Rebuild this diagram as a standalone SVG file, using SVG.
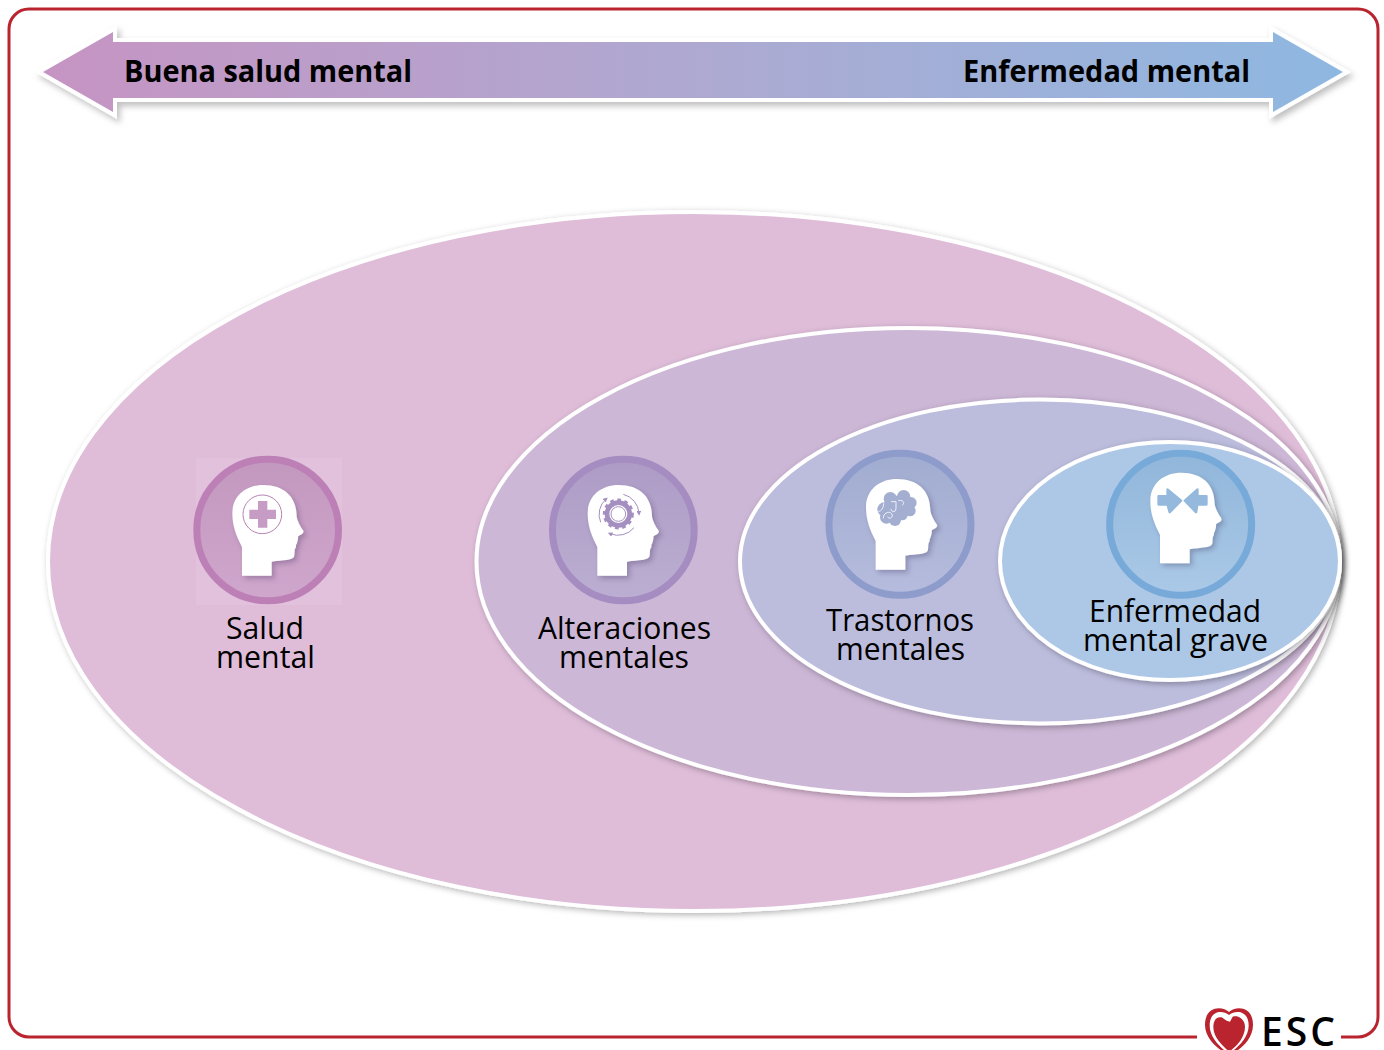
<svg xmlns="http://www.w3.org/2000/svg" width="1384" height="1050" viewBox="0 0 1384 1050">
<style>
.lbl{font-family:"Open Sans","Noto Sans","Liberation Sans",sans-serif;font-size:31px;fill:#000;text-anchor:start}
.arrowlbl{font-family:"Open Sans","Noto Sans","Liberation Sans",sans-serif;font-size:31px;font-weight:700;fill:#000}
.ell{stroke:#fff;stroke-width:4;filter:url(#sh)}
.ring{stroke-width:21}
.head{fill:#fff;filter:url(#hs)}
</style>
<defs>
<filter id="sh" x="-5%" y="-5%" width="110%" height="112%"><feDropShadow dx="2" dy="2" stdDeviation="3" flood-color="#000" flood-opacity=".3"/></filter>
<filter id="hs" x="-20%" y="-20%" width="150%" height="150%"><feDropShadow dx="8" dy="9" stdDeviation="8" flood-color="#3a2a55" flood-opacity=".3"/></filter>
<filter id="as" x="-3%" y="-30%" width="106%" height="170%"><feDropShadow dx="3" dy="4" stdDeviation="3" flood-color="#000" flood-opacity=".25"/></filter>
<linearGradient id="ga" x1="0" x2="1" y1="0" y2="0"><stop offset="0" stop-color="#c694c3"/><stop offset=".5" stop-color="#aea9d1"/><stop offset="1" stop-color="#8eb8e1"/></linearGradient>
<linearGradient id="g1" x1="0" x2="0" y1="0" y2="1"><stop offset="0" stop-color="#c398bf"/><stop offset="1" stop-color="#cfa6cc"/></linearGradient>
<linearGradient id="g2" x1="0" x2="0" y1="0" y2="1"><stop offset="0" stop-color="#ad9bc5"/><stop offset="1" stop-color="#bcaed2"/></linearGradient>
<linearGradient id="g3" x1="0" x2="0" y1="0" y2="1"><stop offset="0" stop-color="#a0acd0"/><stop offset="1" stop-color="#b6bcdd"/></linearGradient>
<linearGradient id="g4" x1="0" x2="0" y1="0" y2="1"><stop offset="0" stop-color="#90b6da"/><stop offset="1" stop-color="#abc9e7"/></linearGradient>
<path id="headp" d="M186 392 L186 306 C170 275 157 245 157 205 C157 150 200 120 250 120 C312 120 350 155 350 215 C352 228 360 243 370 257 C373 268 358 270 354 275 C355 283 352 290 350 297 C346 300 350 305 346 310 C342 316 345 330 342 335 C336 346 310 344 275 350 L275 392 Z"/>
<marker id="mk2" markerWidth="14" markerHeight="14" refX="5" refY="5" orient="auto" markerUnits="userSpaceOnUse" viewBox="0 0 10 10"><path d="M0 0L10 5L0 10Z" fill="#a48fc0"/></marker>
</defs>

<path id="frame" d="M1197 1037H29A20 20 0 0 1 9 1017V29A20 20 0 0 1 29 9H1358A20 20 0 0 1 1378 29V1017A20 20 0 0 1 1358 1037H1341" fill="none" stroke="#b9242f" stroke-width="3"/>

<g id="arrow">
<path d="M43 72L113 32V42H1273V32L1343 72L1273 112V98H113V112Z" fill="url(#ga)" stroke="#fff" stroke-width="8" stroke-linejoin="miter" paint-order="stroke" filter="url(#as)"/>
<text class="arrowlbl" x="124" y="82" textLength="288" lengthAdjust="spacingAndGlyphs">Buena salud mental</text>
<text class="arrowlbl" x="963" y="82" textLength="287" lengthAdjust="spacingAndGlyphs">Enfermedad mental</text>
</g>

<g id="ellipses">
<ellipse id="e1" class="ell" cx="694" cy="561.5" rx="646" ry="349.5" fill="#dfbdd9"/>
<ellipse id="e2" class="ell" cx="908" cy="561.5" rx="431.5" ry="233.5" fill="#ccb7d6"/>
<ellipse id="e3" class="ell" cx="1040" cy="561.5" rx="300" ry="162" fill="#bcbcdd"/>
<ellipse id="e4" class="ell" cx="1170" cy="561" rx="170" ry="119" fill="#adc8e6"/>
</g>

<g id="node-salud">
<rect x="196" y="458" width="146" height="147" fill="#e1c1db"/>
<g transform="translate(180 445) scale(.33333)">
<circle class="ring" cx="263" cy="255" r="212.5" fill="url(#g1)" stroke="#bd80b6"/>
<use href="#headp" class="head"/>
<circle cx="247" cy="208" r="58" fill="none" stroke="#b582b0" stroke-width="3"/>
<path d="M234 168H262V194H288V222H262V248H234V222H208V194H234Z" fill="#c79cc4"/>
</g>
<text class="lbl" x="226" y="639" textLength="78" lengthAdjust="spacingAndGlyphs">Salud</text>
<text class="lbl" x="216" y="668" textLength="99" lengthAdjust="spacingAndGlyphs">mental</text>
</g>

<g id="node-alteraciones">
<g transform="translate(540 445) scale(.33333)">
<circle class="ring" cx="250" cy="255" r="212.5" fill="url(#g2)" stroke="#a58dc1"/>
<use href="#headp" class="head" transform="translate(-14 0)"/>
<circle cx="235" cy="207" r="34" fill="none" stroke="#a48fc0" stroke-width="14"/>
<circle cx="235" cy="207" r="42" fill="none" stroke="#a48fc0" stroke-width="9" stroke-dasharray="11 10.5"/>
<circle cx="235" cy="207" r="22" fill="#fff"/>
<circle cx="235" cy="207" r="22" fill="none" stroke="#a48fc0" stroke-width="3"/>
<g fill="none" stroke="#a48fc0" stroke-width="3">
<path d="M182 232A62 62 0 0 1 198 162" marker-end="url(#mk2)"/>
<path d="M250 148A62 62 0 0 1 297 205" marker-end="url(#mk2)"/>
<path d="M282 248A62 62 0 0 1 210 266" marker-end="url(#mk2)"/>
</g>
</g>
<text class="lbl" x="538" y="639" textLength="173" lengthAdjust="spacingAndGlyphs">Alteraciones</text>
<text class="lbl" x="559" y="668" textLength="130" lengthAdjust="spacingAndGlyphs">mentales</text>
</g>

<g id="node-trastornos">
<g transform="translate(815 440) scale(.33333)">
<circle class="ring" cx="255" cy="253" r="213" fill="url(#g3)" stroke="#8e9ccb"/>
<use href="#headp" class="head" transform="translate(-4 -3)"/>
<g fill="#a3aed1">
<circle cx="245" cy="205" r="38"/><circle cx="208" cy="208" r="21"/><circle cx="226" cy="176" r="20"/><circle cx="266" cy="170" r="20"/><circle cx="288" cy="188" r="17"/><circle cx="285" cy="212" r="17"/><circle cx="214" cy="232" r="19"/><circle cx="240" cy="240" r="18"/><circle cx="262" cy="225" r="16"/>
</g>
<g fill="none" stroke="#eef0f8" stroke-width="3">
<path d="M228 185H243V205C243 218 228 218 228 207M205 235C205 215 228 212 232 225C232 235 222 238 218 230M250 182C265 178 270 190 262 196M190 215C200 212 205 205 206 190"/>
</g>
</g>
<text class="lbl" x="826" y="631" textLength="148" lengthAdjust="spacingAndGlyphs">Trastornos</text>
<text class="lbl" x="836" y="660" textLength="129" lengthAdjust="spacingAndGlyphs">mentales</text>
</g>

<g id="node-enfermedad">
<g transform="translate(1095 440) scale(.33333)">
<circle class="ring" cx="257" cy="253" r="213" fill="url(#g4)" stroke="#78aad9"/>
<use href="#headp" class="head" transform="translate(9 -22)"/>
<g fill="#94b9dc" stroke="#94b9dc" stroke-width="8" stroke-linejoin="round">
<path d="M191 169H218V149L258 182L224 216L218 193H191Z"/>
<path d="M334 169H307V149L270 182L303 216L307 193H334Z"/>
</g>
</g>
<text class="lbl" x="1089" y="622" textLength="172" lengthAdjust="spacingAndGlyphs">Enfermedad</text>
<text class="lbl" x="1083" y="651" textLength="185" lengthAdjust="spacingAndGlyphs">mental grave</text>
</g>

<g id="esc-logo">
<g transform="translate(1180 990) scale(.33333)">
<path d="M147 66C128 48 75 46 75 105C75 140 105 168 122 180H174C192 168 219 140 219 105C219 46 166 48 147 66Z" fill="#b9242f"/>
<path d="M147 75C128 60 89 60 89 107C89 138 115 165 132 180H162C180 165 206 138 206 107C206 60 166 60 147 75Z" fill="#fff"/>
<path d="M125 82C105 78 100 98 100 112C100 142 128 168 142 180H154C170 168 195 142 195 110C195 88 175 74 158 80L150 95L140 92Z" fill="#b9242f"/>
</g>
<text x="1261" y="1046" font-family="'Open Sans','Noto Sans',sans-serif" font-size="39" font-weight="600" fill="#000" textLength="74" lengthAdjust="spacing">ESC</text>
</g>
</svg>
